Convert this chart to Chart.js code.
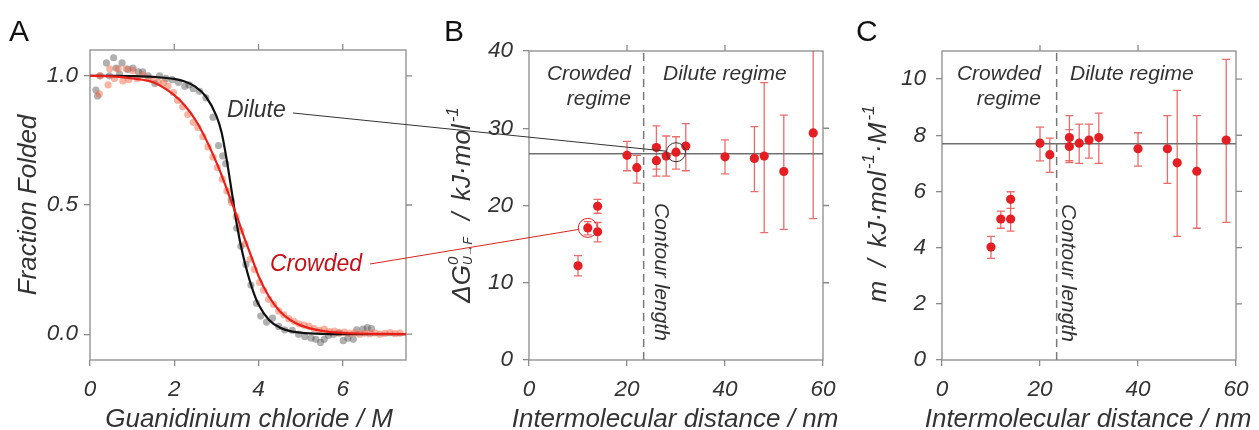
<!DOCTYPE html>
<html>
<head>
<meta charset="utf-8">
<script src="https://cdn.jsdelivr.net/npm/chart.js@4.4.0/dist/chart.umd.min.js"></script>
<style>
  body { margin: 0; background: #fff; }
  #wrap { position: relative; width: 1259px; height: 430px; overflow: hidden; background: #fff; }
  #wrap canvas { position: absolute; top: 0; }
</style>
</head>
<body>
<div id="wrap">
  <canvas id="chartA" width="420" height="430" style="left:0"></canvas>
  <canvas id="chartB" width="420" height="430" style="left:420px"></canvas>
  <canvas id="chartC" width="419" height="430" style="left:840px"></canvas>
  <canvas id="overlay" width="1259" height="430" style="left:0;pointer-events:none"></canvas>
</div>
<script>
// ---- panel A: fraction folded vs GdmCl ----
var dilutePoints = [[0.14,0.945],[0.18,0.922],[0.24,1.0],[0.39,1.05],[0.46,1.0],[0.56,1.07],[0.62,1.03],[0.70,1.007],
  [0.76,1.05],[0.90,1.025],[1.02,1.03],[1.15,1.015],[1.25,1.015],[1.38,1.0],[1.54,0.97],[1.65,1.0],[1.80,0.99],
  [1.95,0.985],[2.10,0.975],[2.25,0.96],[2.35,0.965],[2.45,0.95],[2.60,0.94],[2.75,0.915],[2.92,0.84],[3.05,0.73],
  [3.15,0.69],[3.22,0.66],[3.35,0.52],[3.48,0.41],[3.58,0.34],[3.70,0.27],[3.82,0.19],[3.95,0.12],[4.05,0.07],
  [4.19,0.047],[4.33,0.062],[4.48,0.03],[4.62,0.017],[4.80,0.015],[4.95,0.0],[5.10,-0.01],[5.25,-0.015],[5.36,-0.02],
  [5.47,-0.032],[5.56,-0.02],[5.66,-0.005],[5.78,0.0],[5.90,0.005],[6.01,-0.025],[6.12,-0.015],[6.25,-0.02],
  [6.33,0.017],[6.48,0.02],[6.58,0.025],[6.68,0.022]];
var crowdedPoints = [[0.22,0.93],[0.23,1.0],[0.43,0.965],[0.47,1.027],[0.58,0.99],[0.67,1.027],[0.78,0.98],[0.86,1.027],
  [0.92,0.985],[1.02,1.02],[1.12,0.99],[1.25,1.005],[1.38,0.99],[1.50,0.985],[1.62,0.975],[1.75,0.975],[1.85,0.96],
  [1.98,0.935],[2.08,0.905],[2.20,0.88],[2.32,0.85],[2.45,0.82],[2.56,0.80],[2.68,0.765],[2.80,0.725],[2.92,0.685],
  [3.02,0.645],[3.14,0.60],[3.25,0.555],[3.36,0.51],[3.47,0.455],[3.58,0.40],[3.68,0.35],[3.80,0.29],[3.90,0.25],
  [4.02,0.20],[4.12,0.17],[4.24,0.135],[4.36,0.115],[4.48,0.09],[4.60,0.075],[4.72,0.06],[4.84,0.05],[4.96,0.04],
  [5.08,0.035],[5.20,0.03],[5.32,0.022],[5.44,0.015],[5.56,0.02],[5.68,0.01],[5.80,0.012],[5.92,0.005],[6.04,0.008],
  [6.16,0.003],[6.28,0.005],[6.40,0.0],[6.52,0.004],[6.64,0.002],[6.76,0.005],[6.88,0.0],[7.00,0.003],[7.12,0.006],
  [7.24,0.002],[7.36,0.004]];
var fitX = [0, 0.5, 1, 1.5, 2, 2.25, 2.5, 2.75, 3, 3.125, 3.25, 3.375, 3.5, 3.625, 3.75, 3.875, 4, 4.25, 4.5, 4.75, 5, 5.5, 6, 6.5, 7, 7.5];
var diluteFit = [1.0, 1.0, 0.999, 0.996, 0.988, 0.978, 0.958, 0.92, 0.845, 0.78, 0.67, 0.54, 0.41, 0.31, 0.23, 0.165, 0.115, 0.055, 0.026, 0.012, 0.006, 0.001, 0, 0, 0, 0];
var crowdedFit = [1.0, 0.998, 0.99, 0.975, 0.925, 0.885, 0.83, 0.755, 0.665, 0.615, 0.56, 0.505, 0.45, 0.39, 0.335, 0.28, 0.225, 0.145, 0.09, 0.055, 0.034, 0.013, 0.005, 0.002, 0.001, 0];

// ---- panels B and C: vs intermolecular distance ----
var distance = [10, 12, 14, 14, 20, 22, 26, 26, 28, 30, 32, 40, 46, 48, 52, 58];
var dG     = [12.2, 17.1, 19.9, 16.6, 26.5, 24.9, 27.5, 25.8, 26.4, 26.9, 27.7, 26.3, 26.1, 26.4, 24.4, 29.4];
var dGLow  = [10.9, 16.2, 19.0, 15.3, 24.5, 22.9, 24.7, 23.8, 23.8, 24.7, 24.5, 24.1, 21.8, 16.5, 16.9, 18.3];
var dGHigh = [13.5, 17.9, 20.8, 17.8, 28.3, 26.5, 30.3, 27.8, 29.0, 28.9, 30.6, 28.5, 30.2, 35.9, 31.7, 41.0];
var mVal   = [4.02, 5.02, 5.72, 5.02, 7.72, 7.31, 7.92, 7.60, 7.72, 7.83, 7.92, 7.52, 7.52, 7.02, 6.72, 7.83];
var mLow   = [3.62, 4.69, 5.40, 4.59, 7.09, 6.68, 7.10, 7.03, 7.00, 7.19, 7.00, 6.90, 6.29, 4.40, 4.69, 4.90];
var mHigh  = [4.40, 5.30, 5.99, 5.40, 8.29, 7.90, 8.70, 8.20, 8.40, 8.40, 8.79, 8.09, 8.70, 9.60, 8.70, 10.70];
var plateauG = 26.7;
var plateauM = 7.7;
var contourLength = 23.4;
var circledDilute = 9;   // the 30 nm point
var circledCrowded = 1;  // the 12 nm point

var ticksAx = [0, 2, 4, 6];
var ticksAy = [0, 0.5, 1];
var ticksDist = [0, 20, 40, 60];
var ticksBy = [0, 10, 20, 30, 40];
var ticksCy = [0, 2, 4, 6, 8, 10];

var FONT = '"Liberation Sans", Arial, Helvetica, sans-serif';
var GREY = '#333';
var FRAME = '#8c8c8c';

function xy(pairs) { return pairs.map(function (p) { return { x: p[0], y: p[1] }; }); }
function zip(xs, ys) { return xs.map(function (x, i) { return { x: x, y: ys[i] }; }); }

function axis(min, max, ticks, o) {
  return {
    type: 'linear', min: min, max: max,
    afterBuildTicks: function (s) { s.ticks = ticks.map(function (v) { return { value: v }; }); },
    afterFit: function (s) {
      if (o.width) s.width = o.width;
      if (o.height) s.height = o.height;
      s.paddingLeft = 0; s.paddingRight = 0; s.paddingTop = 0; s.paddingBottom = 0;
    },
    border: { display: false },
    grid: { drawOnChartArea: false, drawTicks: true, tickLength: 6, color: FRAME, lineWidth: 1.3 },
    ticks: {
      padding: o.pad, color: GREY, maxRotation: 0, autoSkip: false,
      font: { family: FONT, size: 22.5, style: 'italic' },
      callback: o.fmt || function (v) { return v; }
    }
  };
}

// box round the plot plus the unlabelled ticks on top and right
function frame(topTicks, rightTicks) {
  return {
    id: 'frame',
    beforeDatasetsDraw: function (chart) {
      var a = chart.chartArea, ctx = chart.ctx, sx = chart.scales.x, sy = chart.scales.y;
      ctx.save();
      ctx.strokeStyle = FRAME; ctx.lineWidth = 1.3;
      ctx.strokeRect(a.left, a.top, a.right - a.left, a.bottom - a.top);
      ctx.beginPath();
      topTicks.forEach(function (v) { var p = sx.getPixelForValue(v); ctx.moveTo(p, a.top); ctx.lineTo(p, a.top - 6); });
      rightTicks.forEach(function (v) { var p = sy.getPixelForValue(v); ctx.moveTo(a.right, p); ctx.lineTo(a.right + 6, p); });
      ctx.stroke();
      ctx.restore();
    }
  };
}

function errorBars(xs, lows, highs) {
  return {
    id: 'errorBars',
    beforeDatasetsDraw: function (chart) {
      var ctx = chart.ctx, sx = chart.scales.x, sy = chart.scales.y, a = chart.chartArea;
      ctx.save();
      ctx.beginPath(); ctx.rect(a.left, a.top, a.right - a.left, a.bottom - a.top); ctx.clip();
      ctx.strokeStyle = 'rgba(232, 70, 70, 0.8)'; ctx.lineWidth = 1.3;
      ctx.beginPath();
      xs.forEach(function (x, i) {
        var px = sx.getPixelForValue(x), lo = sy.getPixelForValue(lows[i]), hi = sy.getPixelForValue(highs[i]);
        ctx.moveTo(px, lo); ctx.lineTo(px, hi);
        ctx.moveTo(px - 4, lo); ctx.lineTo(px + 4, lo);
        ctx.moveTo(px - 4, hi); ctx.lineTo(px + 4, hi);
      });
      ctx.stroke();
      ctx.restore();
    }
  };
}

var common = {
  animation: false, responsive: false, devicePixelRatio: 1,
  plugins: { legend: { display: false }, tooltip: { enabled: false } }
};

var chartA = new Chart(document.getElementById('chartA'), {
  type: 'scatter',
  data: {
    datasets: [
      { data: zip(fitX, crowdedFit), showLine: true, borderColor: '#e8201a', borderWidth: 2.2, pointRadius: 0, cubicInterpolationMode: 'monotone' },
      { data: zip(fitX, diluteFit), showLine: true, borderColor: '#111', borderWidth: 2.2, pointRadius: 0, cubicInterpolationMode: 'monotone' },
      { data: xy(crowdedPoints), backgroundColor: 'rgba(243, 105, 72, 0.5)', borderWidth: 0, pointRadius: 3.6 },
      { data: xy(dilutePoints), backgroundColor: 'rgba(80, 80, 80, 0.45)', borderWidth: 0, pointRadius: 3.6 }
    ]
  },
  options: Object.assign({}, common, {
    layout: { padding: { top: 50, right: 14, left: 0, bottom: 0 } },
    scales: {
      x: axis(0, 7.5, ticksAx, { height: 70, pad: 10 }),
      y: axis(-0.1, 1.1, ticksAy, { width: 90, pad: 6, fmt: function (v) { return v.toFixed(1); } })
    }
  }),
  plugins: [frame([2, 4, 6], ticksAy)]
});

function distanceChart(id, ys, lows, highs, plateau, yMax, yTicks, yWidth, padRight, rightTicks) {
  return new Chart(document.getElementById(id), {
    type: 'scatter',
    data: {
      datasets: [
        { data: zip(distance, ys), backgroundColor: '#e41e22', borderWidth: 0, pointRadius: 4.6 },
        { data: [{ x: 0, y: plateau }, { x: 60, y: plateau }], showLine: true, borderColor: '#707070', borderWidth: 1.5, pointRadius: 0 },
        { data: [{ x: contourLength, y: 0 }, { x: contourLength, y: yMax }], showLine: true, borderColor: '#7a7a7a', borderWidth: 1.5, borderDash: [8, 5], pointRadius: 0 }
      ]
    },
    options: Object.assign({}, common, {
      layout: { padding: { top: 51, right: padRight, left: 0, bottom: 0 } },
      scales: {
        x: axis(0, 60, ticksDist, { height: 70, pad: 10 }),
        y: axis(0, yMax, yTicks, { width: yWidth, pad: 10 })
      }
    }),
    plugins: [frame([20, 40], rightTicks), errorBars(distance, lows, highs)]
  });
}

var chartB = distanceChart('chartB', dG, dGLow, dGHigh, plateauG, 40, ticksBy, 109, 17, [10, 20, 30]);
var chartC = distanceChart('chartC', mVal, mLow, mHigh, plateauM, 11, ticksCy, 102, 23, [2, 4, 6, 8, 10]);

// ---- overlay: panel letters, titles, notes and the connectors ----
var ov = document.getElementById('overlay').getContext('2d');

function text(s, x, y, size, color, align, style) {
  ov.font = (style || 'italic') + ' ' + size + 'px ' + FONT;
  ov.fillStyle = color;
  ov.textAlign = align || 'left';
  ov.textBaseline = 'alphabetic';
  ov.fillText(s, x, y);
}

function vertical(pieces, baseX, midY, dir) {
  var w = 0;
  pieces.forEach(function (p) {
    ov.font = 'italic ' + p.size + 'px ' + FONT;
    p.w = ov.measureText(p.t).width;
    if (!p.stack) w += p.w + (p.gap || 0);
  });
  ov.save();
  ov.translate(baseX, midY);
  ov.rotate(dir * Math.PI / 2);
  ov.fillStyle = GREY; ov.textAlign = 'left'; ov.textBaseline = 'alphabetic';
  var cx = -w / 2;
  pieces.forEach(function (p) {
    ov.font = 'italic ' + p.size + 'px ' + FONT;
    ov.fillText(p.t, cx, p.dy || 0);
    if (!p.stack) cx += p.w + (p.gap || 0);
  });
  ov.restore();
}

text('A', 9, 41, 30, '#111', 'left', 'normal');
text('B', 444, 41, 30, '#111', 'left', 'normal');
text('C', 856, 41, 30, '#111', 'left', 'normal');

text('Guanidinium chloride / M', 249, 427, 26, GREY, 'center');
text('Intermolecular distance / nm', 675, 427, 26, GREY, 'center');
text('Intermolecular distance / nm', 1088, 427, 26, GREY, 'center');

vertical([{ t: 'Fraction Folded', size: 26 }], 36, 205, -1);
vertical([
  { t: 'ΔG', size: 26 },
  { t: '0', size: 15, dy: -12, stack: true },
  { t: 'U→F', size: 12, dy: 2, gap: 17 },
  { t: '/', size: 26, gap: 12 },
  { t: 'kJ·mol', size: 26, gap: 2 },
  { t: '-1', size: 17, dy: -12 }
], 470, 205, -1);
vertical([
  { t: 'm', size: 26, gap: 14 },
  { t: '/', size: 26, gap: 12 },
  { t: 'kJ·mol', size: 26, gap: 2 },
  { t: '-1', size: 17, dy: -12, gap: 1 },
  { t: '·M', size: 26, gap: 2 },
  { t: '-1', size: 17, dy: -12 }
], 886, 204, -1);

// regime notes
text('Crowded', 631, 80, 21, GREY, 'right');
text('regime', 631, 105, 21, GREY, 'right');
text('Dilute regime', 663, 80, 21, GREY, 'left');
text('Crowded', 1041, 80, 21, GREY, 'right');
text('regime', 1041, 105, 21, GREY, 'right');
text('Dilute regime', 1070, 80, 21, GREY, 'left');
vertical([{ t: 'Contour length', size: 21 }], 655, 272, 1);
vertical([{ t: 'Contour length', size: 21 }], 1062, 273, 1);

// curve labels in A
text('Dilute', 227, 117, 23, GREY, 'left');
text('Crowded', 270, 271, 23, '#c4121b', 'left');

function pointOnPage(chart, left, i, ys) {
  return { x: left + chart.scales.x.getPixelForValue(distance[i]), y: chart.scales.y.getPixelForValue(ys[i]) };
}

function connector(from, to, r, color) {
  var dx = to.x - from.x, dy = to.y - from.y, len = Math.sqrt(dx * dx + dy * dy);
  ov.save();
  ov.strokeStyle = color; ov.lineWidth = 1;
  ov.beginPath();
  ov.moveTo(from.x, from.y);
  ov.lineTo(to.x - dx / len * r, to.y - dy / len * r);
  ov.stroke();
  ov.beginPath();
  ov.arc(to.x, to.y, r, 0, Math.PI * 2);
  ov.stroke();
  ov.restore();
}

connector({ x: 293, y: 113 }, pointOnPage(chartB, 420, circledDilute, dG), 9.5, '#333');
connector({ x: 370, y: 264 }, pointOnPage(chartB, 420, circledCrowded, dG), 9.5, '#d82424');
</script>
</body>
</html>
